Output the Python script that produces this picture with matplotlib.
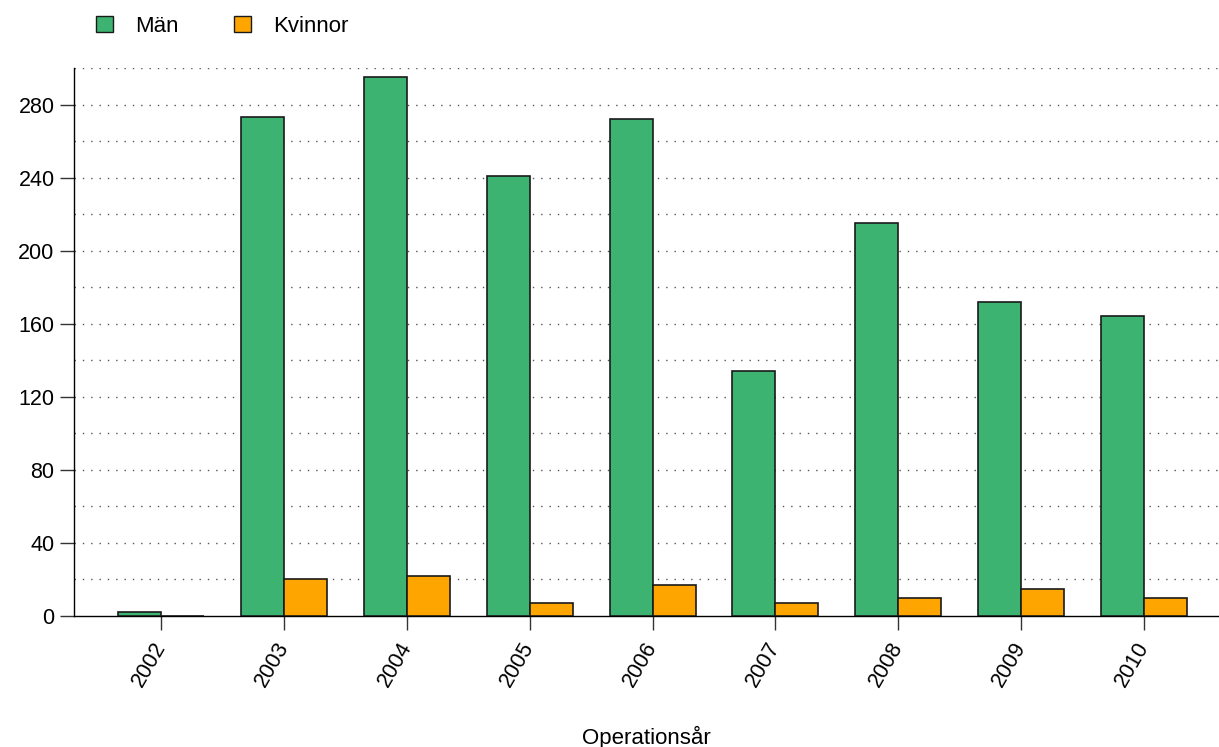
import matplotlib
matplotlib.use("Agg")
import matplotlib.pyplot as plt
import numpy as np
from matplotlib.patches import Patch

years = ["2002", "2003", "2004", "2005", "2006", "2007", "2008", "2009", "2010"]
man = [2, 273, 295, 241, 272, 134, 215, 172, 164]
kvinnor = [0, 20, 22, 7, 17, 7, 10, 15, 10]
yticks = [0, 40, 80, 120, 160, 200, 240, 280]

plt.rcParams['font.family'] = ['Liberation Sans', 'DejaVu Sans']

fig = plt.figure(figsize=(12.19, 7.47), dpi=100)
ax = fig.add_axes([74/1219, 131/747, 1 - 74/1219, (616-68)/747])

x = np.arange(len(years))
w = 0.35
green = "#3CB371"
orange = "#FFA500"
ax.bar(x - w/2, man, width=w, color=green, edgecolor="#1a1a1a", linewidth=1.2, zorder=3)
ax.bar(x + w/2, kvinnor, width=w, color=orange, edgecolor="#1a1a1a", linewidth=1.2, zorder=3)

ax.set_xlim(-0.708, 8.61)
ax.set_ylim(0, 300)
for g in range(20, 301, 20):
    ax.axhline(g, color="#555555", linestyle=(0, (1, 5)), linewidth=1.0, zorder=1)

ax.set_yticks(yticks)
ax.set_yticklabels([str(t) for t in yticks], fontsize=15.5)
ax.set_xticks(x)
ax.set_xticklabels(years, rotation=60, ha="right", va="center", rotation_mode="anchor", fontsize=15.5)
ax.tick_params(axis="both", length=10, width=1.0, color="#333333")
ax.tick_params(axis="x", pad=10)
ax.tick_params(axis="y", pad=4)

for s in ["top", "right"]:
    ax.spines[s].set_visible(False)
ax.spines["left"].set_linewidth(1.0)
ax.spines["bottom"].set_linewidth(1.0)

ax.set_xlabel("Operationsår", fontsize=16)
ax.xaxis.set_label_coords(0.5, -0.2)

handles = [Patch(facecolor=green, edgecolor="#1a1a1a", label="Män"),
           Patch(facecolor=orange, edgecolor="#1a1a1a", label="Kvinnor")]
fig.legend(handles=handles, loc="upper left", bbox_to_anchor=(76/1219, 1.0 + 4/747), ncol=2,
           frameon=False, fontsize=16, handlelength=0.75, handleheight=0.7,
           columnspacing=2.5, handletextpad=1.0)

fig.savefig("out.png", dpi=100)
